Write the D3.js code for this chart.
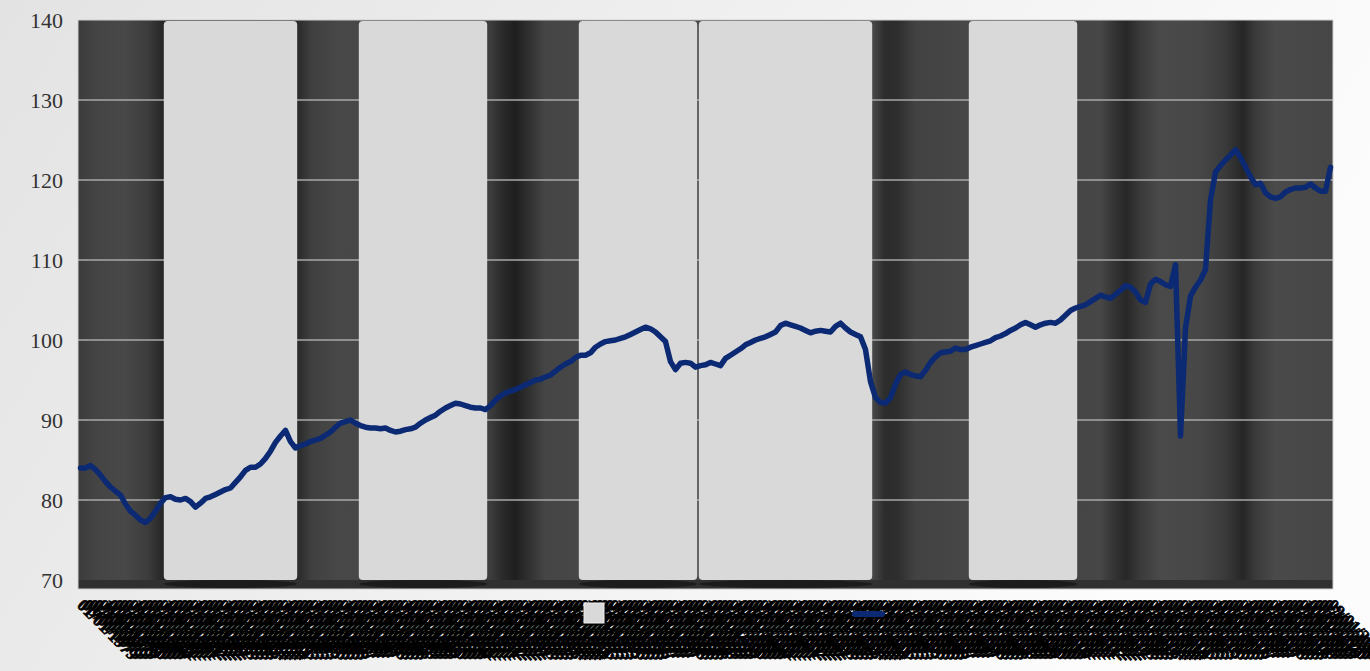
<!DOCTYPE html>
<html>
<head>
<meta charset="utf-8">
<script src="https://cdn.jsdelivr.net/npm/d3@7"></script>
<style>
  html, body { margin: 0; padding: 0; overflow: hidden; background: #f0f0f0; }
  svg { display: block; }
</style>
</head>
<body>
<svg id="chart" width="1370" height="671"></svg>
<script>
// ---------------- DATA ----------------
// Index series (one value per category)
const seriesValues = [
  84.0, 84.0, 84.3, 83.8, 83.1, 82.3, 81.6, 81.1, 80.6, 79.5,
  78.6, 78.1, 77.5, 77.2, 77.7, 78.6, 79.6, 80.3, 80.4, 80.1,
  80.0, 80.2, 79.8, 79.1, 79.6, 80.2, 80.4, 80.7, 81.0, 81.3,
  81.5, 82.2, 82.9, 83.7, 84.1, 84.1, 84.5, 85.2, 86.1, 87.2,
  88.0, 88.7, 87.3, 86.5, 86.8, 87.0, 87.3, 87.5, 87.7, 88.1,
  88.5, 89.1, 89.6, 89.8, 90.0, 89.6, 89.3, 89.1, 89.0, 89.0,
  88.9, 89.0, 88.7, 88.5, 88.6, 88.8, 88.9, 89.1, 89.6, 90.0,
  90.3, 90.6, 91.1, 91.5, 91.8, 92.1, 92.0, 91.8, 91.6, 91.5,
  91.5, 91.3, 91.8, 92.5, 93.0, 93.4, 93.6, 93.8, 94.1, 94.4,
  94.7, 95.0, 95.1, 95.4, 95.6, 96.1, 96.6, 97.0, 97.3, 97.8,
  98.1, 98.1, 98.4, 99.1, 99.5, 99.8, 99.9, 100.0, 100.2, 100.4,
  100.7, 101.0, 101.3, 101.6, 101.4, 101.0, 100.4, 99.8, 97.3, 96.3,
  97.1, 97.2, 97.1, 96.6, 96.8, 96.9, 97.2, 97.0, 96.8, 97.7,
  98.1, 98.5, 98.9, 99.4, 99.7, 100.0, 100.2, 100.4, 100.7, 101.0,
  101.8, 102.1, 101.9, 101.7, 101.5, 101.2, 100.9, 101.1, 101.2, 101.1,
  101.0, 101.7, 102.1, 101.5, 101.0, 100.7, 100.4, 98.8, 94.8, 92.8,
  92.2, 92.1, 92.8, 94.5, 95.7, 96.0, 95.7, 95.5, 95.4, 96.2,
  97.2, 97.9, 98.4, 98.5, 98.6, 99.0, 98.8, 98.8, 99.1, 99.3,
  99.5, 99.7, 99.9, 100.3, 100.5, 100.8, 101.2, 101.5, 101.9, 102.2,
  101.9, 101.6, 101.9, 102.1, 102.2, 102.1, 102.5, 103.1, 103.7, 104.0,
  104.2, 104.4, 104.8, 105.2, 105.6, 105.4, 105.2, 105.7, 106.2, 106.8,
  106.6, 106.0, 105.0, 104.7, 107.0, 107.6, 107.3, 106.9, 106.7, 109.4,
  88.0, 101.5, 105.5, 106.6, 107.5, 108.8, 117.5, 121.0, 121.8, 122.5,
  123.1, 123.8, 122.8, 121.6, 120.4, 119.4, 119.6, 118.4, 117.9, 117.7,
  117.9, 118.5, 118.8, 119.0, 119.0, 119.1, 119.5, 119.0, 118.6, 118.6,
  121.6
];

// Category labels: one date per category (every 2 months)
const categoryStart = new Date(1979, 0, 1);
const categoryStepMonths = 2;
const categories = seriesValues.map((_, i) =>
  d3.timeFormat("%m/%d/%Y")(d3.timeMonth.offset(categoryStart, i * categoryStepMonths)));

// Shaded periods (light column series), as [first category index, end index (exclusive)]
const shadedPeriods = [[17, 44], [56, 82], [100, 124], [124, 159], [178, 200]];

// Y axis ticks
const yTicks = [70, 80, 90, 100, 110, 120, 130, 140];

// ---------------- LAYOUT ----------------
const W = 1370, H = 671;
const plot = { left: 78, right: 1333, top: 20, bottom: 580, floor: 589 };

const svg = d3.select("#chart");
const defs = svg.append("defs");

// page background
const bg = defs.append("linearGradient").attr("id", "pageBg")
  .attr("x1", "0%").attr("y1", "0%").attr("x2", "100%").attr("y2", "30%");
bg.append("stop").attr("offset", "0%").attr("stop-color", "#e3e3e3");
bg.append("stop").attr("offset", "55%").attr("stop-color", "#f1f1f1");
bg.append("stop").attr("offset", "100%").attr("stop-color", "#fcfcfc");
svg.append("rect").attr("width", W).attr("height", H).attr("fill", "url(#pageBg)");

// dark plot background with cylindrical banding
const bandStops = [
  [78, "#3b3b3b"], [95, "#444444"], [125, "#484848"], [148, "#3c3c3c"], [163, "#262626"],
  [298, "#2b2b2b"], [312, "#404040"], [340, "#484848"], [357, "#474747"],
  [490, "#3d3d3d"], [503, "#2a2a2a"], [515, "#1f1f1f"], [528, "#2f2f2f"], [545, "#454545"], [578, "#474747"],
  [873, "#474747"], [885, "#2c2c2c"], [898, "#2e2e2e"], [915, "#424242"], [966, "#474747"],
  [1078, "#454545"], [1100, "#474747"], [1115, "#333333"], [1126, "#272727"], [1140, "#3a3a3a"],
  [1160, "#4a4a4a"], [1200, "#474747"], [1225, "#3a3a3a"], [1243, "#262626"], [1255, "#3a3a3a"],
  [1275, "#4a4a4a"], [1333, "#464646"]
];
const dg = defs.append("linearGradient").attr("id", "darkBg")
  .attr("gradientUnits", "userSpaceOnUse")
  .attr("x1", plot.left).attr("x2", plot.right).attr("y1", 0).attr("y2", 0);
bandStops.forEach(([px, c]) => dg.append("stop")
  .attr("offset", (px - plot.left) / (plot.right - plot.left)).attr("stop-color", c));

svg.append("rect")
  .attr("x", plot.left).attr("y", plot.top)
  .attr("width", plot.right - plot.left).attr("height", plot.floor - plot.top)
  .attr("fill", "url(#darkBg)");

// floor strip
svg.append("rect")
  .attr("x", plot.left).attr("y", plot.bottom)
  .attr("width", plot.right - plot.left).attr("height", plot.floor - plot.bottom)
  .attr("fill", "#303030");

// ---------------- SCALES ----------------
const x = d3.scaleBand()
  .domain(d3.range(seriesValues.length))
  .range([plot.left, plot.right])
  .paddingInner(0).paddingOuter(0);
const bw = x.bandwidth();
const y = d3.scaleLinear().domain([70, 140]).range([plot.bottom, plot.top]);

// gridlines
svg.append("g").selectAll("line")
  .data(yTicks.filter(t => t > 70 && t < 140))
  .join("line")
  .attr("x1", plot.left).attr("x2", plot.right)
  .attr("y1", d => y(d)).attr("y2", d => y(d))
  .attr("stroke", "#a8a8a8").attr("stroke-width", 1.6);

// shaded period columns (light)
const periodG = svg.append("g");
shadedPeriods.forEach(([s, e]) => {
  const x0 = x(s) + 0.8, x1 = x(e - 1) + bw - 0.8;
  periodG.append("ellipse")
    .attr("cx", (x0 + x1) / 2).attr("cy", plot.bottom + 4)
    .attr("rx", (x1 - x0) / 2).attr("ry", 4)
    .attr("fill", "#141414").attr("opacity", 0.7);
  periodG.append("rect")
    .attr("x", x0).attr("y", plot.top + 1)
    .attr("width", x1 - x0).attr("height", y(70) - plot.top - 1)
    .attr("rx", 4).attr("ry", 4)
    .attr("fill", "#d9d9d9");
});

// plot border
svg.append("rect")
  .attr("x", plot.left).attr("y", plot.top)
  .attr("width", plot.right - plot.left).attr("height", plot.floor - plot.top)
  .attr("fill", "none").attr("stroke", "#cfcfcf").attr("stroke-width", 1);

// ---------------- LINE ----------------
const line = d3.line()
  .x((d, i) => x(i) + bw / 2)
  .y(d => y(d));
svg.append("path")
  .datum(seriesValues)
  .attr("d", line)
  .attr("fill", "none")
  .attr("stroke", "#0b2a73")
  .attr("stroke-width", 5.5)
  .attr("stroke-linejoin", "round")
  .attr("stroke-linecap", "round");

// ---------------- AXES ----------------
const yAxis = svg.append("g")
  .attr("transform", `translate(${plot.left},0)`)
  .call(d3.axisLeft(y).tickValues(yTicks).tickSize(0).tickPadding(15).tickFormat(d3.format("d")));
yAxis.select(".domain").remove();
yAxis.selectAll("text")
  .attr("font-family", "'Liberation Serif', 'Times New Roman', serif")
  .attr("font-size", 22)
  .attr("fill", "#333333");

const xAxis = svg.append("g")
  .attr("transform", `translate(0,${plot.floor + 13})`)
  .call(d3.axisBottom(x).tickFormat(i => categories[i]).tickSize(0).tickPadding(0));
xAxis.select(".domain").remove();
xAxis.selectAll("text")
  .attr("font-family", "'Liberation Serif', 'Times New Roman', serif")
  .attr("font-size", 17)
  .attr("font-weight", "bold")
  .attr("fill", "#000")
  .attr("stroke", "#000")
  .attr("stroke-width", 0.7)
  .attr("text-anchor", "start")
  .attr("dy", "0.35em")
  .attr("y", 0)
  .attr("transform", "rotate(45)");

// ---------------- LEGEND ----------------
const legend = svg.append("g");
legend.append("rect")
  .attr("x", 584).attr("y", 603).attr("width", 20).attr("height", 20)
  .attr("fill", "#d9d9d9").attr("stroke", "#eeeeee").attr("stroke-width", 1);
legend.append("line")
  .attr("x1", 855).attr("x2", 882).attr("y1", 614).attr("y2", 614)
  .attr("stroke", "#0b2a73").attr("stroke-width", 6).attr("stroke-linecap", "round");
</script>
</body>
</html>
